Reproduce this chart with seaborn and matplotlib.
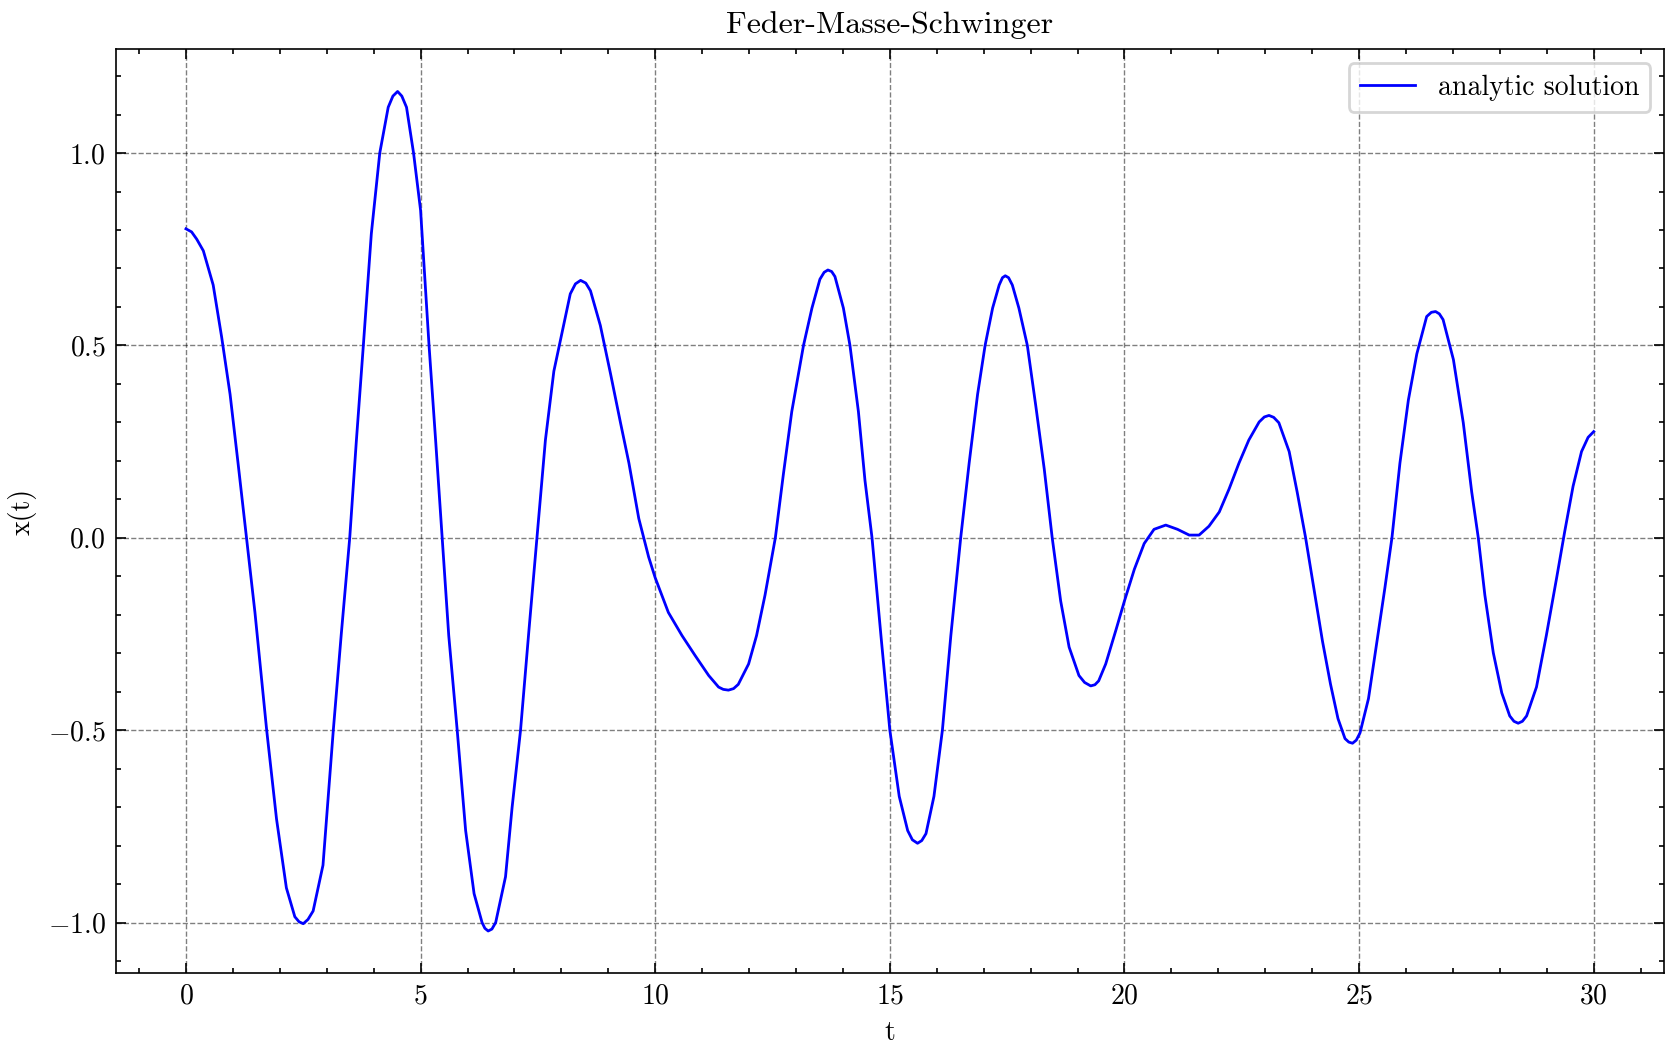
import numpy as np
import pandas as pd
import matplotlib
matplotlib.use("Agg")
import matplotlib.pyplot as plt
from matplotlib.ticker import MultipleLocator, AutoMinorLocator
import seaborn as sns

# values (time, displacement)
t_values = [0.0, 0.12, 0.23, 0.37, 0.58, 0.76, 0.94, 1.11, 1.29, 1.47, 1.72, 1.93,
            2.14, 2.32, 2.41, 2.50, 2.60, 2.71, 2.92, 3.14, 3.31, 3.49, 3.63, 3.78, 3.95, 4.13,
            4.31, 4.41, 4.51, 4.60, 4.70, 4.85, 5.0, 5.18, 5.32, 5.46, 5.60, 5.78, 5.96, 6.14,
            6.31, 6.37, 6.44, 6.52, 6.60, 6.81, 6.95, 7.13, 7.31, 7.48, 7.66, 7.84, 8.02, 8.19,
            8.30, 8.41, 8.52, 8.62, 8.83, 9.05, 9.26, 9.44, 9.65, 9.86, 10.0, 10.28, 10.57, 10.85,
            11.14, 11.35, 11.45, 11.56, 11.67, 11.77, 11.99, 12.16, 12.34, 12.56, 12.73, 12.91, 13.16,
            13.34, 13.51, 13.60, 13.68, 13.76, 13.83, 14.01, 14.15, 14.33, 14.47, 14.62, 14.81, 15.0,
            15.20, 15.38, 15.48, 15.59, 15.68, 15.77, 15.94, 16.12, 16.30, 16.51, 16.69, 16.87, 17.03,
            17.19, 17.33, 17.40, 17.46, 17.53, 17.61, 17.75, 17.93, 18.11, 18.29, 18.46, 18.64, 18.82,
            19.03, 19.15, 19.28, 19.37, 19.45, 19.60, 19.82, 20.0, 20.21, 20.42, 20.63, 20.88, 21.13,
            21.38, 21.59, 21.80, 22.02, 22.23, 22.44, 22.65, 22.87, 22.98, 23.08, 23.18, 23.29, 23.51,
            23.68, 23.86, 24.04, 24.22, 24.39, 24.55, 24.70, 24.78, 24.86, 24.94, 25.02, 25.20, 25.38,
            25.55, 25.70, 25.87, 26.05, 26.23, 26.44, 26.54, 26.63, 26.71, 26.79, 27.01, 27.22, 27.40,
            27.54, 27.68, 27.86, 28.04, 28.21, 28.30, 28.39, 28.48, 28.57, 28.78, 28.99, 29.21, 29.38,
            29.56, 29.74, 29.88, 30.0]
x_values = [0.803, 0.795, 0.776, 0.746, 0.657, 0.522, 0.373, 0.194, 0.0, -0.194, -0.5, -0.731,
            -0.910, -0.985, -0.998, -1.003, -0.992, -0.970, -0.851, -0.5, -0.25, 0.0, 0.25, 0.5, 0.79, 1.0,
            1.119, 1.148, 1.16, 1.148, 1.119, 1.0, 0.851, 0.5, 0.254, 0.0, -0.254, -0.5, -0.761, -0.925,
            -1.0, -1.015, -1.022, -1.017, -1.0, -0.881, -0.701, -0.5, -0.239, 0.0, 0.254, 0.433, 0.537, 0.634,
            0.660, 0.669, 0.662, 0.642, 0.552, 0.425, 0.299, 0.194, 0.05, -0.05, -0.104, -0.194, -0.254, -0.306,
            -0.358, -0.388, -0.394, -0.396, -0.392, -0.381, -0.328, -0.254, -0.149, 0.0, 0.164, 0.328, 0.5,
            0.597, 0.672, 0.690, 0.696, 0.692, 0.679, 0.597, 0.5, 0.328, 0.149, 0.0, -0.254, -0.5,
            -0.672, -0.761, -0.785, -0.794, -0.787, -0.769, -0.672, -0.5, -0.254, 0.0, 0.194, 0.373, 0.5,
            0.597, 0.657, 0.676, 0.681, 0.676, 0.657, 0.597, 0.5, 0.343, 0.179, 0.0, -0.164, -0.284,
            -0.358, -0.376, -0.385, -0.382, -0.372, -0.328, -0.239, -0.164, -0.082, -0.015, 0.022, 0.033, 0.022,
            0.007, 0.007, 0.030, 0.067, 0.127, 0.194, 0.254, 0.301, 0.314, 0.318, 0.313, 0.299, 0.224,
            0.119, 0.0, -0.134, -0.269, -0.380, -0.470, -0.522, -0.531, -0.534, -0.526, -0.507, -0.418, -0.269,
            -0.13, 0.0, 0.194, 0.358, 0.478, 0.575, 0.586, 0.588, 0.582, 0.567, 0.463, 0.299, 0.119,
            0.0, -0.149, -0.299, -0.403, -0.463, -0.477, -0.482, -0.477, -0.463, -0.388, -0.254, -0.104, 0.015,
            0.134, 0.224, 0.261, 0.276]

plt.rcParams["font.family"] = "serif"
plt.rcParams["font.serif"] = ["cmr10"]
plt.rcParams["mathtext.fontset"] = "cm"
plt.rcParams["axes.formatter.use_mathtext"] = True
plt.rcParams["font.size"] = 10
plt.rcParams["axes.linewidth"] = 0.6
for ax_name in ["xtick", "ytick"]:
    plt.rcParams[f"{ax_name}.direction"] = "in"
    plt.rcParams[f"{ax_name}.major.size"] = 3.5
    plt.rcParams[f"{ax_name}.minor.size"] = 1.75
    plt.rcParams[f"{ax_name}.major.width"] = 0.6
    plt.rcParams[f"{ax_name}.minor.width"] = 0.6
    plt.rcParams[f"{ax_name}.minor.visible"] = True
plt.rcParams["xtick.top"] = True
plt.rcParams["ytick.right"] = True

df = pd.DataFrame({"t": t_values, "x": x_values})

fig, ax = plt.subplots(figsize=(8.375, 5.265), dpi=200)
sns.lineplot(data=df, x="t", y="x", color="blue", linewidth=1.0,
             label="analytic solution", ax=ax)

ax.xaxis.set_major_locator(MultipleLocator(5))
ax.yaxis.set_major_locator(MultipleLocator(0.5))
ax.xaxis.set_minor_locator(AutoMinorLocator(5))
ax.yaxis.set_minor_locator(AutoMinorLocator(5))
ax.grid(True, which="major", linestyle="--", color="k", alpha=0.5, linewidth=0.5)
ax.set_axisbelow(True)

ax.set_title("Feder-Masse-Schwinger", fontsize=11.5)
ax.set_xlabel("t", fontsize=10)
ax.set_ylabel("x(t)", fontsize=10)
ax.tick_params(labelsize=10)
ax.legend(loc="upper right", fontsize=10)

plt.subplots_adjust(left=0.069, right=0.9935, top=0.953, bottom=0.076)
plt.savefig("out.png", dpi=200)
